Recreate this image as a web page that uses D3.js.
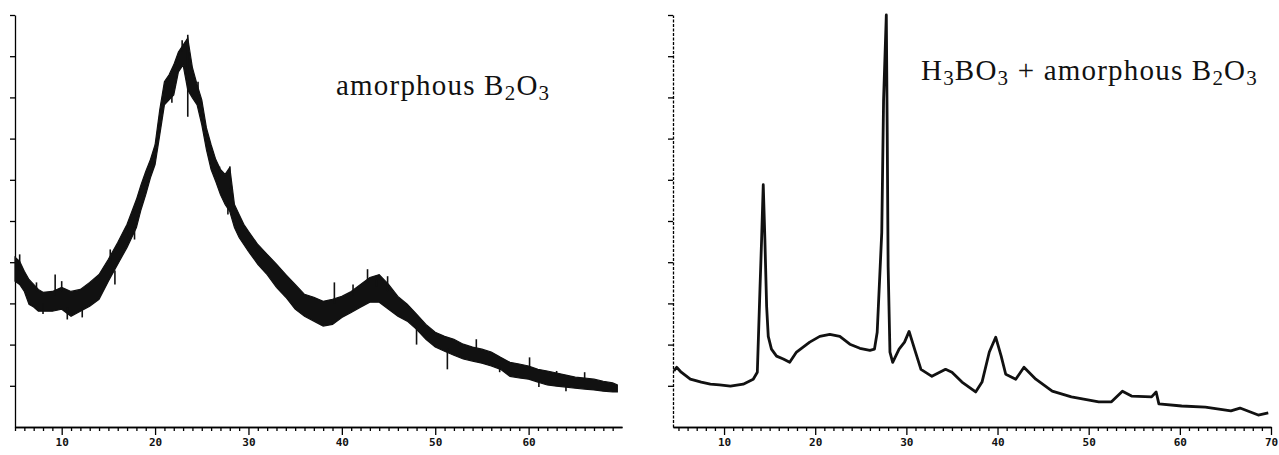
<!DOCTYPE html>
<html>
<head>
<meta charset="utf-8">
<title>XRD B2O3</title>
<style>
  body { margin: 0; background: #fff; }
  .lbl { font-family: "Liberation Serif", "Times New Roman", serif; font-size: 29px; letter-spacing: 1.2px; fill: #111; }
  .tick text { font-family: "DejaVu Sans Mono", monospace; font-weight: bold; font-size: 11px; fill: #111; }
</style>
</head>
<body>
<svg id="container" width="1279" height="455"></svg>
<script src="https://cdn.jsdelivr.net/npm/d3@7"></script>
<script>
// left pattern: amorphous B2O3, noisy band (upper / lower edge of the trace)
let leftAngle = [5,5.5,6,6.5,7,7.5,8,9,10,11,12,13,14,15,16,17,18,18.5,19,19.5,20,20.5,21,21.5,22,22.5,23,23.5,24,24.5,25,25.5,26,26.5,27,27.5,28,28.5,29,29.5,30,31,32,33,34,35,36,37,38,39,40,41,42,43,44,45,46,47,48,49,50,51,52,53,54,55,56,57,58,59,60,61,62,63,64,65,66,67,68,69,69.5]
let leftHi = [4.12,4.02,3.78,3.58,3.46,3.34,3.27,3.29,3.39,3.29,3.34,3.51,3.70,4.07,4.48,4.92,5.52,5.88,6.20,6.49,6.85,7.70,8.38,8.55,8.79,9.10,9.27,9.44,8.72,8.31,7.94,7.26,6.85,6.49,6.25,6.13,6.30,5.40,5.16,4.92,4.75,4.43,4.19,3.95,3.70,3.46,3.22,3.15,3.05,3.10,3.17,3.29,3.46,3.63,3.70,3.46,3.17,2.98,2.74,2.49,2.30,2.20,2.13,2.01,1.94,1.89,1.82,1.69,1.57,1.53,1.48,1.40,1.36,1.31,1.26,1.21,1.19,1.16,1.11,1.07,1.02]
let leftLo = [3.54,3.46,3.29,2.98,2.91,2.81,2.81,2.81,2.86,2.69,2.81,2.93,3.10,3.54,3.95,4.36,4.84,5.28,5.64,6.05,6.37,7.09,7.82,7.94,8.06,8.62,8.79,8.18,7.99,7.82,7.34,6.73,6.25,5.96,5.64,5.40,5.23,4.84,4.60,4.43,4.26,3.95,3.70,3.39,3.15,2.86,2.69,2.57,2.45,2.49,2.66,2.78,2.91,3.03,3.03,2.86,2.69,2.57,2.37,2.13,1.94,1.84,1.74,1.65,1.60,1.55,1.48,1.40,1.23,1.19,1.16,1.09,1.02,0.99,0.97,0.94,0.92,0.90,0.87,0.85,0.85]
// single spikes sticking out of the band: angle, tip, base
let leftSpikes = [[5.5,4.19,3.8],[7.3,3.51,3.3],[8.0,2.74,3.0],[9.3,3.70,3.2],[10.0,3.54,3.3],[10.6,2.61,2.9],[12.2,2.66,2.9],[15.2,4.31,4.0],[15.7,3.46,3.8],[17.1,4.87,4.6],[17.8,4.55,4.9],[21.8,7.87,8.3],[22.9,9.39,9.1],[23.5,9.52,7.53],[24.6,8.38,8.1],[26.9,6.32,6.0],[27.8,5.16,5.5],[28,6.32,5.8],[39.2,3.51,3.0],[41.2,3.46,3.2],[42.75,3.83,3.5],[43.7,3.58,3.4],[44.9,3.66,3.3],[48,2.0,2.4],[51.3,1.40,1.9],[54.4,2.13,1.9],[56.9,1.33,1.5],[60.1,1.69,1.45],[61.1,0.97,1.1],[63,1.36,1.25],[64,0.87,0.99],[66,1.33,1.15]]

// right pattern: H3BO3 + amorphous B2O3
let rightAngle = [4.5,4.8,5.3,6.3,7.5,8.5,9.5,10.7,12.1,13.2,13.65,13.94,14.12,14.3,14.48,14.67,14.85,15.2,15.76,16.5,17.2,17.95,19.4,20.5,21.6,22.7,23.8,24.9,26.0,26.5,26.8,27.3,27.5,27.8,27.9,28.0,28.2,28.5,29.2,29.8,30.3,30.9,31.6,32.8,34.3,35.0,36.1,37.6,38.3,39.1,39.8,40.4,40.9,42.0,42.9,44.2,46.0,48.1,51.1,52.5,53.7,54.7,56.9,57.4,57.7,60.2,62.8,65.6,66.6,68.6,69.7]
let rightValue = [1.36,1.45,1.33,1.16,1.09,1.04,1.02,0.99,1.04,1.16,1.33,3.34,4.55,5.88,4.55,2.93,2.20,1.89,1.72,1.65,1.57,1.82,2.06,2.20,2.25,2.20,2.01,1.91,1.86,1.89,2.30,4.72,7.94,10.0,7.14,3.90,1.82,1.57,1.89,2.06,2.32,1.89,1.40,1.23,1.40,1.33,1.09,0.85,1.09,1.82,2.18,1.72,1.28,1.16,1.45,1.16,0.87,0.73,0.61,0.61,0.87,0.75,0.73,0.85,0.56,0.51,0.48,0.39,0.46,0.29,0.34]

let leftTicks = [10,20,30,40,50,60]
let rightTicks = [10,20,30,40,50,60,70]

let container = d3.select("#container")

let y = d3.scaleLinear().domain([0,10]).range([427,15])
let xLeft = d3.scaleLinear().domain([5,70]).range([15,622])
let xRight = d3.scaleLinear().domain([4.4,70]).range([673,1271])

function drawAxes(x, start, end, labels, dotted) {
	let g = container.append("g")
	// minor ticks every degree
	let minor = d3.range(Math.ceil(start), end + 0.01, 1).filter(d => d % 10 != 0)
	g.append("g")
		.attr("transform", "translate(0,427)")
		.call(d3.axisBottom(x).tickValues(minor).tickSize(4).tickFormat("").tickSizeOuter(0))
	g.append("g")
		.attr("transform", "translate(0,427)")
		.call(d3.axisBottom(x).tickValues(labels).tickSize(8).tickPadding(3).tickSizeOuter(0))
	g.selectAll(".domain").attr("stroke-width", 1.6)
	g.selectAll(".tick line").attr("stroke-width", 1.3)
	// y axis: unlabelled ticks
	let yg = container.append("g")
		.attr("transform", "translate(" + x(start) + ",0)")
		.call(d3.axisLeft(y).tickValues(d3.range(1,11)).tickSize(5).tickFormat("").tickSizeOuter(0))
	yg.selectAll(".tick line").attr("stroke-width", 1.3)
	yg.select(".domain").attr("stroke-width", 1.3)
	if (dotted) yg.select(".domain").attr("stroke-dasharray", "3,1.5")
}

drawAxes(xLeft, 5, 69.5, leftTicks, false)
drawAxes(xRight, 4.4, 70, rightTicks, true)

// left band
let leftData = leftAngle.map((a, i) => ({a: a, hi: leftHi[i], lo: leftLo[i]}))
container.append("path")
	.datum(leftData)
	.attr("fill", "#111")
	.attr("stroke", "#111")
	.attr("stroke-width", 1.2)
	.attr("d", d3.area().x(d => xLeft(d.a)).y0(d => y(d.lo)).y1(d => y(d.hi)))

container.selectAll(".spike")
	.data(leftSpikes)
	.enter()
	.append("line")
	.attr("class", "spike")
	.attr("stroke", "#111")
	.attr("stroke-width", 1.6)
	.attr("x1", d => xLeft(d[0]))
	.attr("x2", d => xLeft(d[0]))
	.attr("y1", d => y(d[1]))
	.attr("y2", d => y(d[2]))

// right trace
let rightData = rightAngle.map((a, i) => ({a: a, v: rightValue[i]}))
container.append("path")
	.datum(rightData)
	.attr("fill", "none")
	.attr("stroke", "#111")
	.attr("stroke-width", 2.8)
	.attr("stroke-linejoin", "round")
	.attr("d", d3.line().x(d => xRight(d.a)).y(d => y(d.v)))

// labels
let t1 = container.append("text").attr("class", "lbl").attr("x", 336).attr("y", 95)
t1.append("tspan").text("amorphous B")
t1.append("tspan").attr("dy", 5).attr("font-size", 21).text("2")
t1.append("tspan").attr("dy", -5).text("O")
t1.append("tspan").attr("dy", 5).attr("font-size", 21).text("3")

let t2 = container.append("text").attr("class", "lbl").attr("x", 921).attr("y", 80)
t2.append("tspan").text("H")
t2.append("tspan").attr("dy", 5).attr("font-size", 21).text("3")
t2.append("tspan").attr("dy", -5).text("BO")
t2.append("tspan").attr("dy", 5).attr("font-size", 21).text("3")
t2.append("tspan").attr("dy", -5).text(" + amorphous B")
t2.append("tspan").attr("dy", 5).attr("font-size", 21).text("2")
t2.append("tspan").attr("dy", -5).text("O")
t2.append("tspan").attr("dy", 5).attr("font-size", 21).text("3")
</script>
</body>
</html>
